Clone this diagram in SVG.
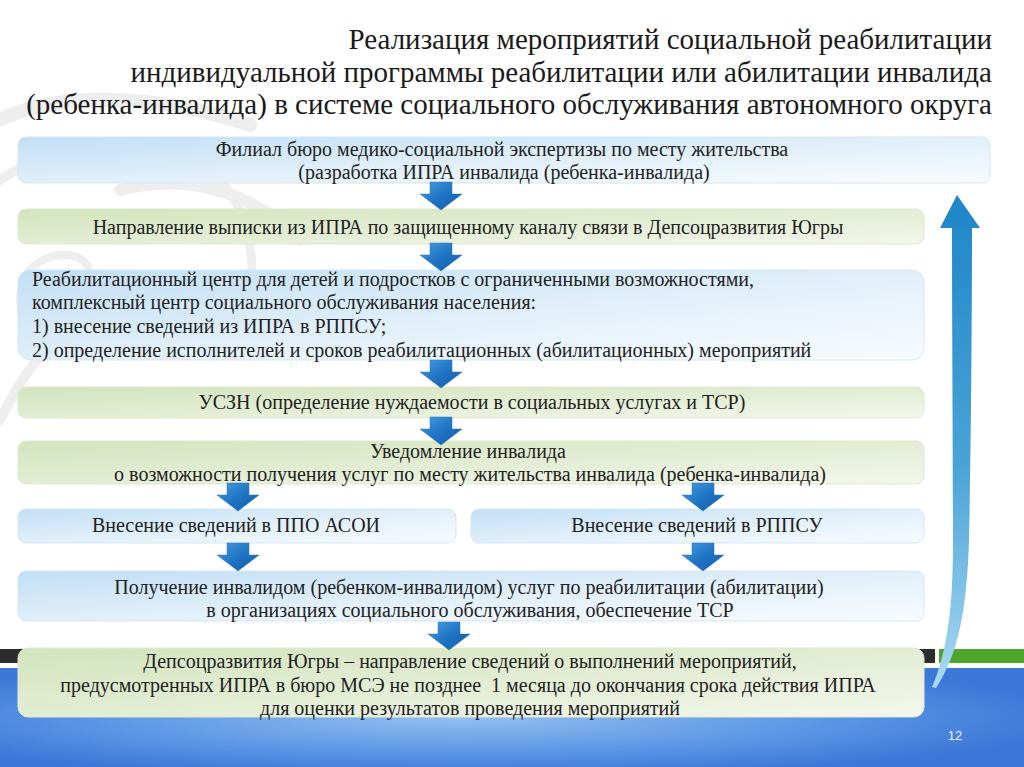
<svg xmlns="http://www.w3.org/2000/svg" width="1024" height="767" viewBox="0 0 1024 767">
<defs>
<linearGradient id="gBlue" x1="0" y1="0" x2="1" y2="1">
<stop offset="0" stop-color="#c2dff5"/>
<stop offset="0.6" stop-color="#e6f2fb"/>
<stop offset="1" stop-color="#f8fbfe"/>
</linearGradient>
<linearGradient id="gGreen" x1="0" y1="0" x2="1" y2="1">
<stop offset="0" stop-color="#d3e4bd"/>
<stop offset="0.6" stop-color="#e5efd8"/>
<stop offset="1" stop-color="#f3f7ec"/>
</linearGradient>
<linearGradient id="gArrow" x1="0" y1="0" x2="1" y2="1">
<stop offset="0" stop-color="#4a9fe2"/>
<stop offset="0.5" stop-color="#1f74c4"/>
<stop offset="1" stop-color="#135da8"/>
</linearGradient>
<linearGradient id="gBig" x1="0" y1="0" x2="0" y2="1">
<stop offset="0" stop-color="#1e86c8"/>
<stop offset="0.55" stop-color="#4aa3d6"/>
<stop offset="1" stop-color="#a9daf2"/>
</linearGradient>
<radialGradient id="gBand" cx="0.45" cy="0.5" r="0.6">
<stop offset="0" stop-color="#94bff0"/>
<stop offset="0.6" stop-color="#5a95e4"/>
<stop offset="1" stop-color="#3c78d8"/>
</radialGradient>
<path id="arr" d="M-11,0 L11,0 L11,12 L21,12 L0,28 L-21,12 L-11,12 Z"/>
</defs>
<style>
text{font-family:"Liberation Serif","Times New Roman",serif;}
text.num{font-family:"Liberation Sans",Arial,sans-serif;}
.bb{fill:url(#gBlue);stroke:#d6e7f4;stroke-width:1;}
.gb{fill:url(#gGreen);stroke:#dfe9d2;stroke-width:1;}
.a{fill:url(#gArrow);stroke:#2a72b8;stroke-width:0.5;}
</style>
<rect width="1024" height="767" fill="#ffffff"/>
<g id="swirl" fill="none" stroke="#d0d0d0" stroke-linecap="round" opacity="0.35">
<path d="M0,120 C60,90 160,95 250,125" stroke-width="14"/>
<path d="M0,180 C40,150 110,150 150,185" stroke-width="10"/>
<path d="M120,190 C200,170 260,200 300,240" stroke-width="12"/>
<path d="M30,330 C10,300 20,260 60,255 C90,252 100,280 80,295" stroke-width="8"/>
<path d="M0,420 C20,380 40,350 60,340" stroke-width="10"/>
<path d="M180,150 C230,170 260,230 250,300" stroke-width="9"/>
</g>
<g id="band">
<rect x="0" y="649" width="935" height="14" fill="#2d2d2d"/>
<rect x="939" y="649" width="85" height="14" fill="#4ea52c"/>
<rect x="0" y="668" width="1024" height="99" fill="url(#gBand)"/>
</g>
<g id="title" font-family="Times New Roman, serif" font-size="29" fill="#1a1a1a" text-anchor="end">
<text x="992" y="49">Реализация мероприятий социальной реабилитации</text>
<text x="992" y="82">индивидуальной программы реабилитации или абилитации инвалида</text>
<text x="992" y="114">(ребенка-инвалида) в системе социального обслуживания автономного округа</text>
</g>
<g id="return-arrow">
<path d="M957,195 L980,228 L972,228 C972,330 971,450 969,540 C967,610 958,655 936,688 L932,687 C948,650 953,605 953,540 C953,450 952,330 952,228 L940,228 Z" fill="url(#gBig)"/>
</g>
<g font-family="Times New Roman, serif" font-size="20" fill="#222">
<g id="node1">
<rect class="bb" x="18" y="137" width="972" height="46" rx="8"/>
<text x="502" y="156" text-anchor="middle">Филиал бюро медико-социальной экспертизы по месту жительства</text>
<text x="504" y="179" text-anchor="middle">(разработка ИПРА инвалида (ребенка-инвалида)</text>
</g>
<g id="node2">
<rect class="gb" x="18" y="209" width="906" height="35" rx="8"/>
<text x="468" y="234" text-anchor="middle">Направление выписки из ИПРА по защищенному каналу связи в Депсоцразвития Югры</text>
</g>
<g id="node3">
<rect class="bb" x="18" y="270" width="906" height="90" rx="12"/>
<text x="32" y="286">Реабилитационный центр для детей и подростков с ограниченными возможностями,</text>
<text x="32" y="309">комплексный центр социального обслуживания населения:</text>
<text x="32" y="333">1) внесение сведений из ИПРА в РППСУ;</text>
<text x="32" y="357">2) определение исполнителей и сроков реабилитационных (абилитационных) мероприятий</text>
</g>
<g id="node4">
<rect class="gb" x="18" y="387" width="906" height="31" rx="8"/>
<text x="472" y="409" text-anchor="middle">УСЗН (определение нуждаемости в социальных услугах и ТСР)</text>
</g>
<g id="node5">
<rect class="gb" x="18" y="441" width="906" height="43" rx="8"/>
<text x="468" y="458" text-anchor="middle">Уведомление инвалида</text>
<text x="470" y="481" text-anchor="middle">о возможности получения услуг по месту жительства инвалида (ребенка-инвалида)</text>
</g>
<g id="node6a">
<rect class="bb" x="18" y="509" width="438" height="34" rx="8"/>
<text x="236" y="532" text-anchor="middle">Внесение сведений в ППО АСОИ</text>
</g>
<g id="node6b">
<rect class="bb" x="471" y="509" width="453" height="34" rx="8"/>
<text x="697" y="532" text-anchor="middle">Внесение сведений в РППСУ</text>
</g>
<g id="node7">
<rect class="bb" x="18" y="571" width="906" height="50" rx="8"/>
<text x="469" y="594" text-anchor="middle">Получение инвалидом (ребенком-инвалидом) услуг по реабилитации (абилитации)</text>
<text x="470" y="617" text-anchor="middle">в организациях социального обслуживания, обеспечение ТСР</text>
</g>
<g id="node8">
<rect class="gb" x="18" y="648" width="906" height="69" rx="10" stroke="#cfdcbd"/>
<text x="470" y="668" text-anchor="middle">Депсоцразвития Югры – направление сведений о выполнений мероприятий,</text>
<text x="468" y="692" text-anchor="middle">предусмотренных ИПРА в бюро МСЭ не позднее &#160;1 месяца до окончания срока действия ИПРА</text>
<text x="470" y="715" text-anchor="middle">для оценки результатов проведения мероприятий</text>
</g>
</g>
<g id="connectors">
<use href="#arr" class="a" x="441" y="182"/>
<use href="#arr" class="a" x="441" y="243"/>
<use href="#arr" class="a" x="441" y="360"/>
<use href="#arr" class="a" x="441" y="417"/>
<use href="#arr" class="a" x="238" y="483"/>
<use href="#arr" class="a" x="703" y="483"/>
<use href="#arr" class="a" x="238" y="543"/>
<use href="#arr" class="a" x="703" y="543"/>
<use href="#arr" class="a" x="449" y="622"/>
</g>
<text class="num" x="955" y="740" text-anchor="middle" font-size="13" fill="#e8f0fa">12</text>
</svg>
